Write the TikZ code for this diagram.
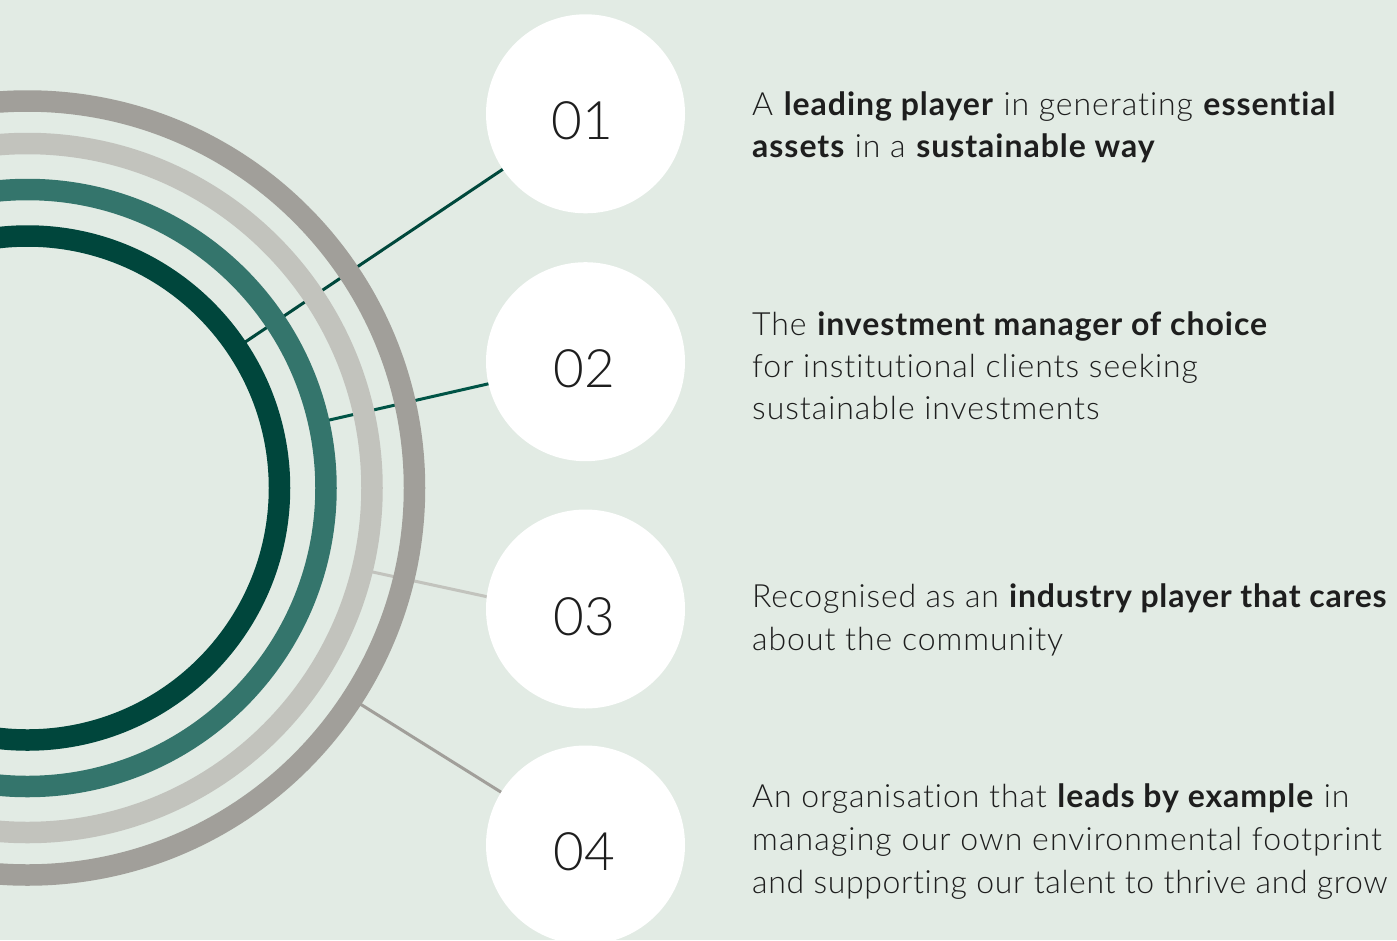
\documentclass[tikz,border=0pt]{standalone}
\usepackage{fontspec}
\setmainfont{Lato}[UprightFont=* Light, BoldFont=* Bold, Ligatures=NoCommon, LetterSpace=3]
\newfontfamily\numfont{Lato}[UprightFont=* Light, Ligatures=NoCommon]
\usetikzlibrary{calc}
\definecolor{bg}{HTML}{E2EBE4}
\definecolor{ringA}{HTML}{00463C}
\definecolor{ringB}{HTML}{34756C}
\definecolor{ringC}{HTML}{C2C3BD}
\definecolor{ringD}{HTML}{A19F9A}
\definecolor{lineA}{HTML}{00483C}
\definecolor{lineB}{HTML}{005446}
\definecolor{txt}{HTML}{1E1E1E}
\begin{document}
\begin{tikzpicture}[x=1pt,y=-1pt,
  ring/.style={line width=21.5pt},
  conn/.style={line width=3pt},
  numdisc/.style={circle, fill=white, minimum size=199pt, inner sep=0pt},
  numlabel/.style={font=\numfont\fontsize{53}{60}\selectfont, text=txt, inner sep=0pt},
  desc/.style={anchor=base west, inner sep=0pt, font=\fontsize{32}{38}\selectfont, text=txt}]
\useasboundingbox (0,0) rectangle (1397,940);
\fill[bg] (0,0) rectangle (1397,940);
\begin{scope}
\clip (0,0) rectangle (1397,940);
\coordinate (C) at (27.5,488);
% disc centres
\path (585.5,113.8) coordinate (p1) (585.5,361.7) coordinate (p2)
      (585.5,609) coordinate (p3) (585.5,845) coordinate (p4)
      (585.5,618) coordinate (t3);
% ring attach points
\coordinate (r1) at (240,345.5);
\coordinate (r2) at (325,421);
\coordinate (r3) at (368,571);
\coordinate (r4) at (357,702);
% connectors (under the rings)
\draw[conn, lineA] (r1) -- (p1);
\draw[conn, lineB] (r2) -- (p2);
\draw[conn, ringC] (r3) -- (t3);
\draw[conn, ringD] (r4) -- (p4);
% rings
\draw[ring, ringA] (C) circle[radius=252];
\draw[ring, ringB] (C) circle[radius=298.5];
\draw[ring, ringC] (C) circle[radius=344.5];
\draw[ring, ringD] (C) circle[radius=387];
% discs
\node[numdisc] (c1) at (p1) {};
\node[numdisc] (c2) at (p2) {};
\node[numdisc] (c3) at (p3) {};
\node[numdisc] (c4) at (p4) {};
\node[numlabel] (n1) at (582,121) {01};
\node[numlabel] (n2) at (584,369) {02};
\node[numlabel] (n3) at (584,617) {03};
\node[numlabel] (n4) at (584,851.5) {04};
\end{scope}
% descriptions
\node[desc] (d1a) at (752,115) {A \textbf{leading player} in generating \textbf{essential}};
\node[desc] (d1b) at (752,157) {\textbf{assets} in a \textbf{sustainable way}};
\node[desc] (d2a) at (752,335) {The \textbf{investment manager of choice}};
\node[desc] (d2b) at (752,377) {for institutional clients seeking};
\node[desc] (d2c) at (752,419) {sustainable investments};
\node[desc] (d3a) at (752,607) {\addfontfeature{LetterSpace=2.5}Recognised as an \textbf{industry player that cares}};
\node[desc] (d3b) at (752,650) {about the community};
\node[desc] (d4a) at (752,807) {An organisation that \textbf{leads by example} in};
\node[desc] (d4b) at (752,850) {\addfontfeature{LetterSpace=3.5}managing our own environmental footprint};
\node[desc] (d4c) at (752,893) {\addfontfeature{LetterSpace=2}and supporting our talent to thrive and grow};
\end{tikzpicture}
\end{document}
